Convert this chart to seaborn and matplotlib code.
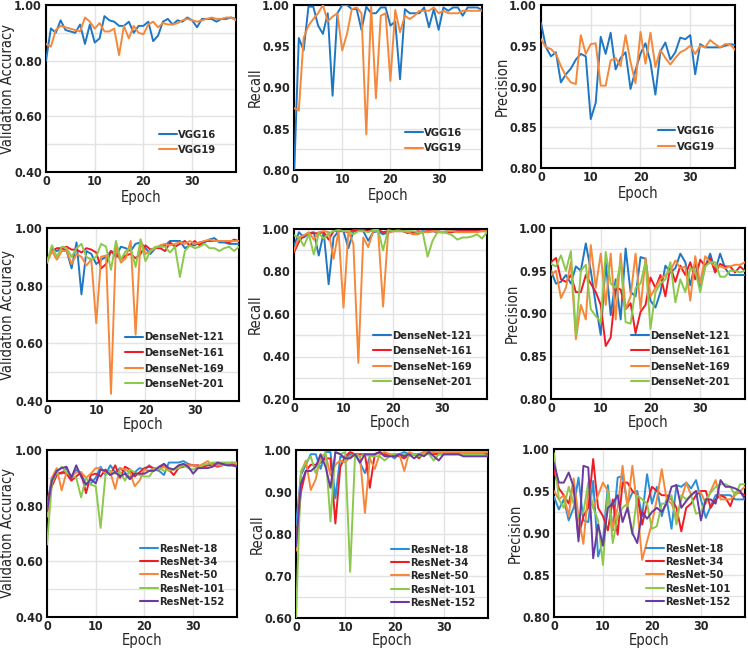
import numpy as np
import pandas as pd
import matplotlib
matplotlib.use("Agg")
import matplotlib.pyplot as plt
from matplotlib.ticker import MultipleLocator
from matplotlib import font_manager as fm
import seaborn as sns

epochs = list(range(40))

# ---------------- VGG ----------------
vgg_names = ["VGG16", "VGG19"]
vgg_acc_16 = [0.80, 0.916, 0.90, 0.945, 0.91, 0.905, 0.90, 0.93, 0.86, 0.93, 0.865, 0.88, 0.96, 0.945, 0.94, 0.925, 0.925, 0.94, 0.90, 0.925,
              0.925, 0.94, 0.87, 0.89, 0.94, 0.95, 0.93, 0.945, 0.94, 0.955, 0.945, 0.92, 0.95, 0.95, 0.95, 0.94, 0.95, 0.95, 0.955, 0.95]
vgg_acc_19 = [0.86, 0.85, 0.91, 0.925, 0.92, 0.915, 0.91, 0.905, 0.955, 0.94, 0.915, 0.935, 0.905, 0.905, 0.915, 0.82, 0.925, 0.88, 0.925, 0.90,
              0.895, 0.93, 0.94, 0.92, 0.935, 0.93, 0.93, 0.935, 0.945, 0.95, 0.945, 0.94, 0.945, 0.95, 0.955, 0.95, 0.95, 0.955, 0.955, 0.945]
vgg_rec_16 = [0.79, 0.96, 0.945, 0.998, 0.998, 0.975, 0.965, 0.99, 0.89, 0.99, 1.0, 1.0, 0.995, 0.995, 0.97, 0.998, 0.99, 0.99, 0.997, 0.997,
              0.975, 0.98, 0.91, 0.995, 0.99, 0.99, 0.99, 0.997, 0.973, 0.995, 0.97, 0.997, 0.993, 0.997, 0.997, 0.987, 0.997, 0.997, 0.997, 0.994]
vgg_rec_19 = [0.875, 0.872, 0.96, 0.975, 0.983, 0.99, 1.0, 0.98, 0.986, 0.99, 0.945, 0.965, 0.995, 0.997, 0.99, 0.843, 0.998, 0.887, 0.987, 0.99,
              0.908, 0.994, 0.967, 0.987, 0.983, 0.987, 0.993, 0.993, 0.993, 0.997, 0.99, 0.993, 0.99, 0.99, 0.99, 0.993, 0.993, 0.993, 0.993, 0.993]
vgg_pre_16 = [0.978, 0.948, 0.937, 0.942, 0.905, 0.915, 0.922, 0.933, 0.94, 0.937, 0.86, 0.88, 0.961, 0.94, 0.966, 0.921, 0.935, 0.942, 0.897, 0.92,
              0.94, 0.953, 0.93, 0.89, 0.943, 0.954, 0.933, 0.942, 0.96, 0.958, 0.963, 0.915, 0.952, 0.948, 0.948, 0.948, 0.948, 0.95, 0.952, 0.951]
vgg_pre_19 = [0.958, 0.948, 0.946, 0.94, 0.925, 0.913, 0.905, 0.903, 0.963, 0.94, 0.952, 0.953, 0.901, 0.901, 0.932, 0.935, 0.925, 0.963, 0.93, 0.904,
              0.967, 0.928, 0.966, 0.924, 0.945, 0.935, 0.927, 0.935, 0.942, 0.945, 0.95, 0.94, 0.95, 0.948, 0.957, 0.952, 0.948, 0.952, 0.952, 0.945]

# ---------------- DenseNet ----------------
dn_names = ["DenseNet-121", "DenseNet-161", "DenseNet-169", "DenseNet-201"]
dn_acc_121 = [0.88, 0.93, 0.92, 0.93, 0.92, 0.86, 0.95, 0.77, 0.92, 0.91, 0.875, 0.89, 0.90, 0.92, 0.90, 0.935, 0.93, 0.92, 0.945, 0.95,
              0.93, 0.91, 0.93, 0.935, 0.94, 0.955, 0.955, 0.955, 0.93, 0.94, 0.94, 0.95, 0.95, 0.96, 0.965, 0.95, 0.95, 0.945, 0.945, 0.945]
dn_acc_161 = [0.89, 0.92, 0.93, 0.93, 0.935, 0.925, 0.925, 0.915, 0.93, 0.925, 0.915, 0.86, 0.875, 0.92, 0.91, 0.89, 0.905, 0.91, 0.895, 0.91,
              0.94, 0.925, 0.93, 0.93, 0.92, 0.95, 0.935, 0.945, 0.955, 0.94, 0.955, 0.94, 0.955, 0.955, 0.955, 0.955, 0.955, 0.95, 0.96, 0.955]
dn_acc_169 = [0.88, 0.92, 0.89, 0.92, 0.92, 0.875, 0.91, 0.90, 0.87, 0.89, 0.67, 0.90, 0.905, 0.425, 0.94, 0.88, 0.895, 0.955, 0.63, 0.96,
              0.91, 0.92, 0.93, 0.94, 0.945, 0.94, 0.945, 0.95, 0.945, 0.955, 0.945, 0.95, 0.955, 0.96, 0.955, 0.955, 0.955, 0.955, 0.955, 0.955]
dn_acc_201 = [0.88, 0.94, 0.90, 0.935, 0.93, 0.90, 0.93, 0.945, 0.90, 0.89, 0.90, 0.945, 0.935, 0.855, 0.955, 0.89, 0.92, 0.93, 0.865, 0.96,
              0.885, 0.92, 0.935, 0.935, 0.935, 0.915, 0.935, 0.83, 0.92, 0.94, 0.93, 0.935, 0.945, 0.93, 0.93, 0.92, 0.93, 0.935, 0.92, 0.935]
dn_rec_121 = [0.92, 0.985, 0.96, 0.98, 0.985, 0.875, 0.985, 0.74, 0.96, 0.99, 0.99, 0.91, 0.99, 0.99, 0.99, 0.945, 0.985, 0.99, 0.975, 0.985,
              0.99, 0.995, 0.99, 0.98, 0.985, 0.98, 0.99, 0.985, 0.99, 0.99, 0.985, 0.99, 0.99, 0.99, 0.99, 0.99, 0.99, 0.99, 0.99, 0.99]
dn_rec_161 = [0.89, 0.94, 0.97, 0.98, 0.98, 0.98, 0.985, 0.95, 0.99, 0.99, 0.99, 0.985, 0.995, 0.995, 0.995, 0.99, 0.995, 0.995, 0.985, 0.99,
              0.99, 0.99, 0.99, 0.985, 0.98, 0.99, 0.985, 0.99, 0.99, 0.985, 0.985, 0.985, 0.985, 0.99, 0.99, 0.99, 0.99, 0.99, 0.99, 0.99]
dn_rec_169 = [0.90, 0.96, 0.97, 0.985, 0.95, 0.985, 0.99, 0.985, 0.86, 0.99, 0.63, 0.99, 0.93, 0.37, 0.96, 0.915, 0.99, 0.99, 0.635, 0.98,
              0.99, 0.99, 0.99, 0.985, 0.975, 0.975, 0.985, 0.985, 0.99, 0.99, 0.985, 0.99, 0.99, 0.985, 0.985, 0.985, 0.985, 0.985, 0.99, 0.99]
dn_rec_201 = [0.97, 0.96, 0.92, 0.975, 0.88, 0.98, 0.955, 0.98, 0.99, 0.995, 0.99, 0.99, 0.975, 0.99, 0.99, 0.985, 0.995, 0.995, 0.90, 0.995,
              0.99, 0.99, 0.99, 0.99, 0.99, 0.985, 0.985, 0.87, 0.945, 0.985, 0.985, 0.98, 0.97, 0.95, 0.96, 0.96, 0.965, 0.975, 0.955, 0.985]
dn_pre_121 = [0.95, 0.935, 0.937, 0.945, 0.935, 0.955, 0.95, 0.982, 0.95, 0.91, 0.875, 0.96, 0.898, 0.94, 0.893, 0.976, 0.925, 0.92, 0.966, 0.964,
              0.915, 0.907, 0.925, 0.956, 0.948, 0.953, 0.97, 0.96, 0.933, 0.96, 0.93, 0.955, 0.97, 0.95, 0.97, 0.953, 0.945, 0.945, 0.945, 0.945]
dn_pre_161 = [0.96, 0.965, 0.94, 0.937, 0.945, 0.925, 0.925, 0.945, 0.935, 0.925, 0.91, 0.862, 0.872, 0.93, 0.928, 0.905, 0.912, 0.877, 0.902, 0.91,
              0.942, 0.93, 0.945, 0.92, 0.955, 0.937, 0.956, 0.945, 0.96, 0.94, 0.963, 0.955, 0.965, 0.948, 0.958, 0.955, 0.955, 0.948, 0.955, 0.95]
dn_pre_169 = [0.945, 0.95, 0.918, 0.93, 0.96, 0.87, 0.91, 0.893, 0.98, 0.93, 0.97, 0.91, 0.97, 0.893, 0.97, 0.905, 0.92, 0.97, 0.905, 0.965,
              0.92, 0.93, 0.94, 0.945, 0.95, 0.962, 0.953, 0.955, 0.915, 0.967, 0.935, 0.967, 0.96, 0.955, 0.955, 0.953, 0.955, 0.957, 0.957, 0.96]
dn_pre_201 = [0.958, 0.955, 0.968, 0.95, 0.973, 0.875, 0.95, 0.957, 0.905, 0.897, 0.89, 0.972, 0.935, 0.93, 0.96, 0.89, 0.888, 0.93, 0.935, 0.96,
              0.882, 0.925, 0.935, 0.94, 0.96, 0.913, 0.94, 0.925, 0.953, 0.95, 0.925, 0.955, 0.96, 0.96, 0.943, 0.943, 0.95, 0.95, 0.948, 0.95]

# ---------------- ResNet ----------------
rn_names = ["ResNet-18", "ResNet-34", "ResNet-50", "ResNet-101", "ResNet-152"]
rn_acc_18 = [0.80, 0.90, 0.92, 0.915, 0.935, 0.90, 0.93, 0.91, 0.88, 0.88, 0.90, 0.94, 0.91, 0.945, 0.92, 0.935, 0.92, 0.90, 0.92, 0.935,
             0.93, 0.945, 0.93, 0.925, 0.91, 0.955, 0.955, 0.955, 0.96, 0.95, 0.945, 0.935, 0.945, 0.945, 0.95, 0.95, 0.95, 0.945, 0.945, 0.945]
rn_acc_34 = [0.82, 0.87, 0.91, 0.92, 0.915, 0.89, 0.905, 0.92, 0.845, 0.91, 0.915, 0.905, 0.93, 0.91, 0.945, 0.90, 0.94, 0.93, 0.905, 0.92,
             0.935, 0.94, 0.935, 0.93, 0.95, 0.93, 0.91, 0.935, 0.94, 0.945, 0.945, 0.945, 0.94, 0.945, 0.945, 0.94, 0.945, 0.95, 0.95, 0.945]
rn_acc_50 = [0.76, 0.90, 0.935, 0.855, 0.92, 0.905, 0.92, 0.92, 0.90, 0.915, 0.935, 0.935, 0.915, 0.92, 0.86, 0.935, 0.93, 0.92, 0.87, 0.89,
             0.93, 0.925, 0.935, 0.93, 0.94, 0.925, 0.93, 0.94, 0.95, 0.945, 0.945, 0.94, 0.95, 0.96, 0.945, 0.945, 0.945, 0.95, 0.955, 0.955]
rn_acc_101 = [0.66, 0.88, 0.92, 0.94, 0.92, 0.91, 0.90, 0.83, 0.90, 0.875, 0.87, 0.72, 0.91, 0.925, 0.915, 0.92, 0.89, 0.93, 0.92, 0.91,
              0.905, 0.905, 0.93, 0.935, 0.925, 0.93, 0.93, 0.935, 0.945, 0.935, 0.93, 0.935, 0.945, 0.95, 0.955, 0.955, 0.955, 0.955, 0.955, 0.95]
rn_acc_152 = [0.78, 0.89, 0.925, 0.935, 0.94, 0.90, 0.945, 0.905, 0.875, 0.895, 0.88, 0.93, 0.925, 0.91, 0.92, 0.905, 0.915, 0.895, 0.915, 0.915,
              0.915, 0.925, 0.925, 0.94, 0.95, 0.935, 0.93, 0.945, 0.95, 0.94, 0.915, 0.935, 0.935, 0.935, 0.94, 0.955, 0.95, 0.945, 0.945, 0.94]
rn_rec_18 = [0.82, 0.94, 0.965, 0.99, 0.99, 0.955, 0.995, 0.995, 0.885, 0.985, 0.98, 0.99, 0.99, 0.97, 0.945, 0.985, 0.99, 0.995, 0.99, 0.99,
             0.98, 0.99, 0.995, 0.99, 0.99, 0.99, 0.995, 0.995, 0.995, 0.99, 0.99, 0.99, 0.99, 0.99, 0.99, 0.99, 0.99, 0.99, 0.99, 0.99]
rn_rec_34 = [0.77, 0.90, 0.95, 0.965, 0.965, 0.97, 0.98, 0.98, 0.825, 0.96, 0.985, 0.995, 0.99, 0.99, 0.99, 0.91, 0.99, 0.995, 0.99, 0.985,
             0.99, 0.985, 0.98, 0.99, 0.99, 0.98, 0.995, 0.99, 0.99, 0.99, 0.99, 0.99, 0.99, 0.99, 0.99, 0.99, 0.99, 0.99, 0.99, 0.99]
rn_rec_50 = [0.76, 0.945, 0.975, 0.905, 0.93, 0.985, 0.99, 0.94, 0.965, 0.975, 0.97, 0.985, 0.99, 0.985, 0.85, 0.98, 0.955, 0.99, 0.995, 0.99,
             0.99, 0.99, 0.95, 0.995, 0.99, 0.99, 0.995, 0.995, 0.995, 0.995, 0.995, 0.995, 0.995, 0.995, 0.995, 0.995, 0.995, 0.995, 0.995, 0.995]
rn_rec_101 = [0.60, 0.95, 0.97, 0.985, 0.945, 0.975, 0.995, 0.83, 0.995, 0.99, 0.995, 0.71, 0.99, 0.985, 0.99, 0.985, 0.985, 0.985, 0.975, 0.985,
              0.99, 0.99, 0.99, 0.985, 0.99, 0.985, 0.99, 0.99, 0.975, 0.99, 0.99, 0.99, 0.99, 0.99, 0.99, 0.99, 0.99, 0.99, 0.99, 0.985]
rn_rec_152 = [0.77, 0.92, 0.95, 0.95, 0.96, 0.99, 0.96, 0.91, 0.995, 0.99, 0.98, 0.98, 0.99, 0.97, 0.99, 0.99, 0.99, 0.995, 0.985, 0.985,
              0.985, 0.99, 0.985, 0.99, 0.98, 0.99, 0.985, 0.995, 0.985, 0.975, 0.99, 0.99, 0.99, 0.99, 0.985, 0.985, 0.985, 0.985, 0.985, 0.985]
rn_pre_18 = [0.943, 0.928, 0.94, 0.915, 0.93, 0.966, 0.915, 0.913, 0.962, 0.872, 0.89, 0.957, 0.903, 0.966, 0.968, 0.935, 0.948, 0.95, 0.92, 0.97,
             0.935, 0.955, 0.92, 0.94, 0.905, 0.957, 0.955, 0.96, 0.953, 0.963, 0.94, 0.918, 0.932, 0.945, 0.945, 0.945, 0.945, 0.94, 0.94, 0.94]
rn_pre_34 = [0.975, 0.953, 0.945, 0.935, 0.96, 0.895, 0.92, 0.93, 0.988, 0.93, 0.92, 0.903, 0.94, 0.898, 0.96, 0.96, 0.95, 0.945, 0.91, 0.935,
             0.955, 0.95, 0.945, 0.945, 0.94, 0.93, 0.902, 0.93, 0.935, 0.945, 0.95, 0.95, 0.93, 0.94, 0.945, 0.942, 0.932, 0.948, 0.948, 0.945]
rn_pre_50 = [0.95, 0.94, 0.945, 0.92, 0.965, 0.92, 0.887, 0.95, 0.93, 0.945, 0.96, 0.95, 0.905, 0.93, 0.98, 0.93, 0.98, 0.93, 0.868, 0.89,
             0.912, 0.94, 0.976, 0.94, 0.935, 0.92, 0.94, 0.96, 0.945, 0.95, 0.948, 0.935, 0.95, 0.963, 0.94, 0.94, 0.94, 0.945, 0.95, 0.955]
rn_pre_101 = [0.995, 0.94, 0.93, 0.955, 0.935, 0.92, 0.925, 0.96, 0.93, 0.915, 0.862, 0.95, 0.888, 0.92, 0.93, 0.935, 0.898, 0.945, 0.94, 0.935,
              0.905, 0.908, 0.935, 0.935, 0.945, 0.91, 0.945, 0.94, 0.945, 0.923, 0.925, 0.94, 0.948, 0.955, 0.958, 0.958, 0.955, 0.945, 0.958, 0.958]
rn_pre_152 = [0.983, 0.96, 0.96, 0.972, 0.955, 0.89, 0.98, 0.978, 0.87, 0.91, 0.885, 0.93, 0.935, 0.945, 0.913, 0.93, 0.90, 0.888, 0.925, 0.917,
              0.925, 0.93, 0.925, 0.935, 0.955, 0.957, 0.93, 0.938, 0.945, 0.95, 0.915, 0.94, 0.94, 0.935, 0.963, 0.955, 0.955, 0.953, 0.95, 0.94]

# ---------------- styling ----------------
BLUE = "#1f77c4"
RED = "#ee1c25"
ORANGE = "#f5883a"
GREEN = "#8cc84b"
PURPLE = "#6a3aa0"
LBLUE = "#2b8fd8"

sns.set_theme(style="white")
installed = {f.name for f in fm.fontManager.ttflist}
fam = "Liberation Sans Narrow" if "Liberation Sans Narrow" in installed else "DejaVu Sans"
plt.rcParams["font.family"] = [fam, "DejaVu Sans"]
plt.rcParams["font.stretch"] = "condensed"
plt.rcParams["axes.unicode_minus"] = False

fig = plt.figure(figsize=(7.48, 6.5), dpi=100)
W, H = 748.0, 650.0


def add_axes(l, t, r, b):
    return fig.add_axes([l / W, 1 - b / H, (r - l) / W, (b - t) / H])


panels = [
    # box(l,t,r,b px), names, series, colours, ylabel, ylim, major, xlabel gap px, legend spacing, legend x, legend y
    ((46, 5, 236, 172), vgg_names, [vgg_acc_16, vgg_acc_19], [BLUE, ORANGE], "Validation Accuracy", (0.40, 1.00), 0.20, 18, 0.5, 0.93, 0.06),
    ((294, 5, 482, 170), vgg_names, [vgg_rec_16, vgg_rec_19], [BLUE, ORANGE], "Recall", (0.80, 1.00), 0.05, 18, 0.5, 0.93, 0.06),
    ((541, 5, 735, 168), vgg_names, [vgg_pre_16, vgg_pre_19], [BLUE, ORANGE], "Precision", (0.80, 1.00), 0.05, 18, 0.5, 0.93, 0.06),
    ((47, 228, 239, 401), dn_names, [dn_acc_121, dn_acc_161, dn_acc_169, dn_acc_201], [BLUE, RED, ORANGE, GREEN],
     "Validation Accuracy", (0.40, 1.00), 0.20, 16, 0.5, 0.955, 0.03),
    ((294, 229, 487, 399), dn_names, [dn_rec_121, dn_rec_161, dn_rec_169, dn_rec_201], [BLUE, RED, ORANGE, GREEN],
     "Recall", (0.20, 1.00), 0.20, 16, 0.5, 0.955, 0.03),
    ((551, 228, 745, 399), dn_names, [dn_pre_121, dn_pre_161, dn_pre_169, dn_pre_201], [BLUE, RED, ORANGE, GREEN],
     "Precision", (0.80, 1.00), 0.05, 16, 0.5, 0.955, 0.03),
    ((47, 450, 237, 617), rn_names, [rn_acc_18, rn_acc_34, rn_acc_50, rn_acc_101, rn_acc_152],
     [LBLUE, RED, ORANGE, GREEN, PURPLE], "Validation Accuracy", (0.40, 1.00), 0.20, 16.5, 0.3, 0.97, 0.02),
    ((296, 450, 488, 618), rn_names, [rn_rec_18, rn_rec_34, rn_rec_50, rn_rec_101, rn_rec_152],
     [LBLUE, RED, ORANGE, GREEN, PURPLE], "Recall", (0.60, 1.00), 0.10, 15.5, 0.3, 0.97, 0.02),
    ((554, 449, 745, 617), rn_names, [rn_pre_18, rn_pre_34, rn_pre_50, rn_pre_101, rn_pre_152],
     [LBLUE, RED, ORANGE, GREEN, PURPLE], "Precision", (0.80, 1.00), 0.05, 16.5, 0.3, 0.96, 0.02),
]

for box, names, series, colors, ylabel, ylim, major, xgap, lspace, lx, ly in panels:
    ax = add_axes(*box)
    l, t, r, b = box
    w_px, h_px = r - l, b - t
    frames = [pd.DataFrame({"Epoch": epochs, "value": vals, "model": name}) for name, vals in zip(names, series)]
    df = pd.concat(frames, ignore_index=True)
    sns.lineplot(data=df, x="Epoch", y="value", hue="model", palette=colors, ax=ax,
                 linewidth=1.4, legend=True, zorder=3)
    ax.set_xlim(0, 39)
    ax.set_ylim(*ylim)
    ax.xaxis.set_major_locator(MultipleLocator(10))
    ax.yaxis.set_major_locator(MultipleLocator(major))
    ax.yaxis.set_minor_locator(MultipleLocator(major / 2))
    ax.yaxis.set_major_formatter(matplotlib.ticker.FormatStrFormatter("%.2f"))
    ax.grid(True, which="major", axis="both", color="#e3e3e3", linewidth=1.0, zorder=0)
    ax.grid(True, which="minor", axis="y", color="#e3e3e3", linewidth=1.0, zorder=0)
    ax.tick_params(axis="both", which="both", direction="in", length=3, width=1, color="black",
                   labelsize=9)
    ax.tick_params(axis="x", pad=2)
    ax.tick_params(axis="y", pad=3)
    for lab in ax.get_xticklabels() + ax.get_yticklabels():
        lab.set_fontweight("bold")
    for sp in ax.spines.values():
        sp.set_color("black")
        sp.set_linewidth(1.5)
    ax.set_xlabel("Epoch", fontsize=10.5)
    ax.xaxis.set_label_coords(0.5, -xgap / h_px)
    ax.xaxis.label.set_va("top")
    ax.set_ylabel(ylabel, fontsize=10.5)
    cx = max(l - 39, 7.5)
    ax.yaxis.set_label_coords((cx - l) / w_px, 0.5)
    ax.yaxis.label.set_va("center")
    leg = ax.legend(loc="lower right", bbox_to_anchor=(lx, ly), frameon=False,
                    fontsize=8, handlelength=1.6, handletextpad=0.1, labelspacing=lspace,
                    borderaxespad=0.2)
    for tx in leg.get_texts():
        tx.set_fontweight("bold")
    for h in leg.get_lines():
        h.set_linewidth(1.5)

fig.savefig("out.png", dpi=100)
